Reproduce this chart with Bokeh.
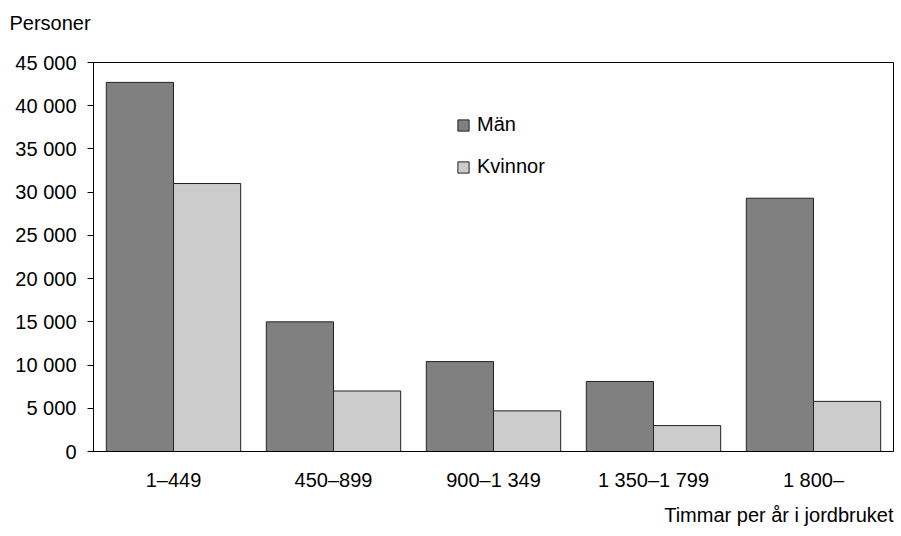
from bokeh.plotting import figure
from bokeh.models import FactorRange, FixedTicker, Legend, LegendItem, Title, ColumnDataSource
from bokeh.transform import dodge
from bokeh.embed import file_html
from bokeh.resources import INLINE

categories = ["1–449", "450–899", "900–1 349", "1 350–1 799", "1 800–"]
man = [42700, 15000, 10400, 8100, 29300]
kvinnor = [31000, 7000, 4700, 3000, 5800]
yticks = [0, 5000, 10000, 15000, 20000, 25000, 30000, 35000, 40000, 45000]
ytick_labels = ["0", "5 000", "10 000", "15 000", "20 000", "25 000", "30 000", "35 000", "40 000", "45 000"]
series_names = ["Män", "Kvinnor"]

FONT = "Liberation Sans"
FS = "20px"

src = ColumnDataSource(dict(cat=categories, man=man, kvinnor=kvinnor))

p = figure(width=894, height=534, output_backend="svg", toolbar_location=None,
           x_range=FactorRange(*categories, range_padding=0), y_range=(0, 45000),
           min_border_left=93, min_border_top=62, min_border_bottom=82, min_border_right=1)

r1 = p.vbar(x=dodge("cat", -0.21, range=p.x_range), top="man", width=0.42, source=src,
            fill_color="#808080", line_color="#222222", line_width=1)
r2 = p.vbar(x=dodge("cat", 0.21, range=p.x_range), top="kvinnor", width=0.42, source=src,
            fill_color="#cccccc", line_color="#222222", line_width=1)

p.xgrid.visible = False
p.ygrid.visible = False
p.outline_line_color = "black"
p.outline_line_width = 1
p.background_fill_color = "white"
p.border_fill_color = "white"

ya = p.yaxis[0]
ya.ticker = FixedTicker(ticks=yticks)
ya.major_label_overrides = {t: l for t, l in zip(yticks, ytick_labels)}
ya.major_tick_out = 6
ya.major_tick_in = 0
ya.minor_tick_out = 0
ya.minor_tick_in = 0
ya.major_label_standoff = 11
ya.major_label_text_font = FONT
ya.major_label_text_font_size = FS
ya.major_label_text_color = "black"
ya.axis_line_color = "black"
ya.major_tick_line_color = "black"

xa = p.xaxis[0]
xa.major_tick_out = 0
xa.major_tick_in = 0
xa.minor_tick_out = 0
xa.major_label_standoff = 17
xa.major_label_text_font = FONT
xa.major_label_text_font_size = FS
xa.major_label_text_color = "black"
xa.axis_line_color = "black"

legend = Legend(items=[LegendItem(label=series_names[0], renderers=[r1]),
                       LegendItem(label=series_names[1], renderers=[r2])],
                location=(363, 273), orientation="vertical",
                glyph_width=14, glyph_height=14, label_height=14, spacing=19,
                padding=0, margin=0, label_standoff=7,
                label_text_font=FONT, label_text_font_size=FS, label_text_color="black",
                border_line_color=None, background_fill_alpha=0)
p.add_layout(legend, "center")

# trailing empty line lifts "Personer" away from the frame
p.add_layout(Title(text="Personer\n", align="left", offset=-84, standoff=14,
                   text_font=FONT, text_font_size=FS, text_font_style="normal",
                   text_color="black"), "above")
p.add_layout(Title(text="Timmar per år i jordbruket", align="right", offset=0, standoff=17,
                   text_font=FONT, text_font_size=FS, text_font_style="normal",
                   text_color="black"), "below")

open("out.html", "w").write(file_html(p, INLINE))
